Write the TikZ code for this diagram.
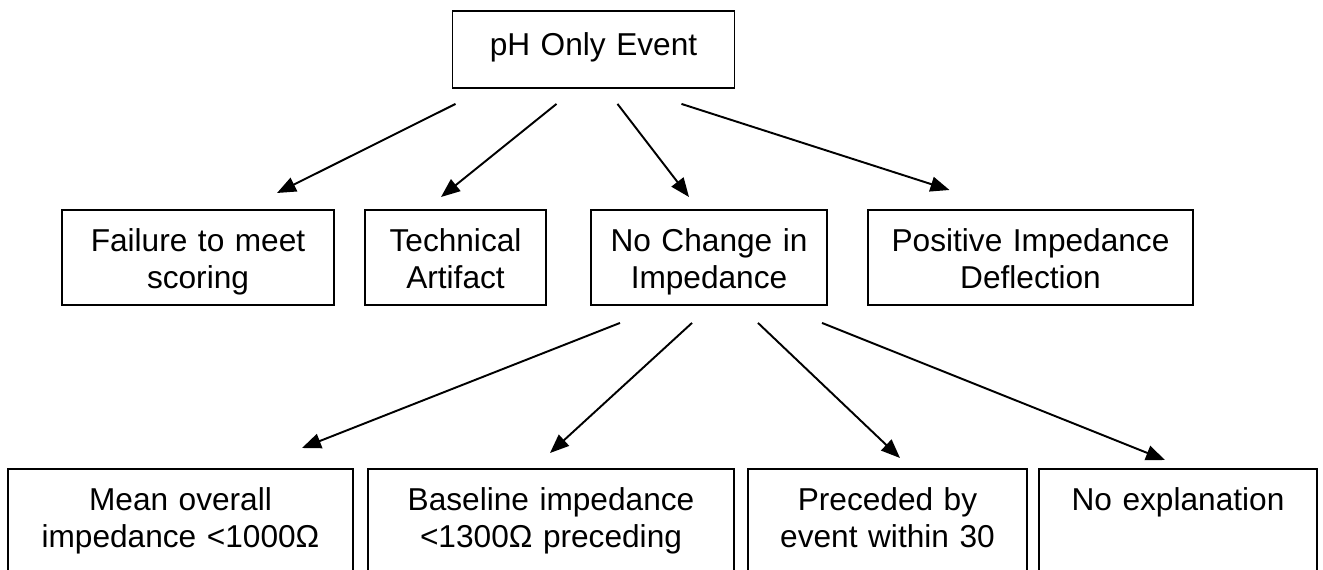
\documentclass[tikz,border=0pt]{standalone}
\usepackage{fontspec}
\setmainfont{Liberation Sans}
\usetikzlibrary{arrows.meta}
\begin{document}
\begin{tikzpicture}[
		eventbox/.style={draw, line width=1.1pt, anchor=north, inner sep=0pt,
			align=center, text height=0.83cm, font=\fontsize{18}{21}\selectfont},
		treearrow/.style={-{Triangle[length=0.38cm,width=0.3cm]}, line width=1.1pt}
		]
		\useasboundingbox (0,0) rectangle (26.46,-11.4);
		\clip (0,0) rectangle (26.46,-11.4);
		
		\node[eventbox, text width=5.64cm, text height=0.9cm, text depth=0.64cm](S0) at (11.87,-0.2){pH Only Event};
		
		\node[eventbox, text width=5.44cm, text depth=1.07cm](S1) at (3.96,-4.18){Failure to meet\\scoring};
		\node[eventbox, text width=3.62cm, text depth=1.07cm](S2) at (9.11,-4.18){Technical\\Artifact};
		\node[eventbox, text width=4.72cm, text depth=1.07cm](S3) at (14.18,-4.18){No Change in\\Impedance};
		\node[eventbox, text width=6.5cm, text depth=1.07cm](S4) at (20.61,-4.18){Positive Impedance\\Deflection};
		
		\node[eventbox, text width=6.9cm, text depth=1.4cm](S5) at (3.61,-9.36){Mean overall\\impedance <1000Ω};
		\node[eventbox, text width=7.32cm, text depth=1.4cm](S6) at (11.02,-9.36){Baseline impedance\\<1300Ω preceding};
		\node[eventbox, text width=5.58cm, text depth=1.4cm](S7) at (17.75,-9.36){Preceded by\\event within 30};
		\node[eventbox, text width=5.56cm, text depth=1.4cm](S8) at (23.56,-9.36){No explanation};
		
		\draw[treearrow] ([xshift=-2.76cm,yshift=-0.3cm]S0.south) -- ([xshift=1.58cm,yshift=0.32cm]S1.north);
		\draw[treearrow] ([xshift=-0.74cm,yshift=-0.3cm]S0.south) -- ([xshift=-0.29cm,yshift=0.24cm]S2.north);
		\draw[treearrow] ([xshift=0.48cm,yshift=-0.3cm]S0.south) -- ([xshift=-0.4cm,yshift=0.24cm]S3.north);
		\draw[treearrow] ([xshift=1.76cm,yshift=-0.3cm]S0.south) -- ([xshift=-1.62cm,yshift=0.38cm]S4.north);
		
		\draw[treearrow] ([xshift=-1.78cm,yshift=-0.34cm]S3.south) -- ([xshift=2.43cm,yshift=0.4cm]S5.north);
		\draw[treearrow] ([xshift=-0.34cm,yshift=-0.34cm]S3.south) -- ([xshift=-0.02cm,yshift=0.3cm]S6.north);
		\draw[treearrow] ([xshift=0.98cm,yshift=-0.34cm]S3.south) -- ([xshift=0.25cm,yshift=0.2cm]S7.north);
		\draw[treearrow] ([xshift=2.26cm,yshift=-0.34cm]S3.south) -- ([xshift=-0.26cm,yshift=0.16cm]S8.north);
	\end{tikzpicture}
\end{document}
